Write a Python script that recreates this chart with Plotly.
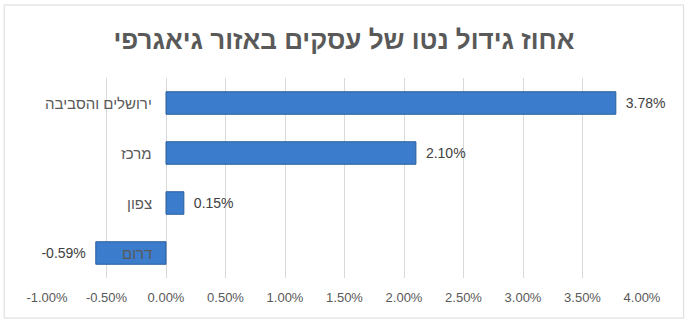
import plotly.graph_objects as go

# Net business growth by region
regions = ["ירושלים והסביבה", "מרכז", "צפון", "דרום"]
growth = [0.0378, 0.0210, 0.0015, -0.0059]
labels = ["3.78%", "2.10%", "0.15%", "-0.59%"]

# X axis ticks
tick_vals = [-0.01, -0.005, 0.0, 0.005, 0.01, 0.015, 0.02, 0.025, 0.03, 0.035, 0.04]
tick_text = ["-1.00%", "-0.50%", "0.00%", "0.50%", "1.00%", "1.50%",
             "2.00%", "2.50%", "3.00%", "3.50%", "4.00%"]

FONT = "Liberation Sans, Arial, DejaVu Sans, sans-serif"
PAD = "\u2002"

# pad the value labels away from the bar ends
bar_text = [(PAD + t) if v >= 0 else (t + PAD) for t, v in zip(labels, growth)]

fig = go.Figure()
fig.add_trace(go.Bar(
    y=regions,
    x=growth,
    orientation="h",
    width=0.45,
    marker=dict(color="#3b7dcc", line=dict(color="#2a5d99", width=1)),
    text=bar_text,
    textposition="outside",
    textfont=dict(family=FONT, size=14, color="#404040"),
    cliponaxis=False,
    hoverinfo="skip",
))

# Region names sit beside the zero line, as in the spreadsheet layout
for r in regions:
    fig.add_annotation(
        x=0, y=r, xref="x", yref="y",
        text=r, showarrow=False,
        xanchor="right", xshift=-12,
        font=dict(family=FONT, size=15, color="#595959"),
    )

# Light frame around the whole chart
fig.add_shape(
    type="rect", xref="paper", yref="paper",
    x0=-0.072, x1=1.07, y0=-0.2, y1=1.365,
    line=dict(color="#d9d9d9", width=1), fillcolor="rgba(0,0,0,0)",
    layer="below",
)

fig.update_layout(
    width=688, height=322,
    margin=dict(l=47, r=46, t=78, b=44),
    paper_bgcolor="white", plot_bgcolor="white",
    showlegend=False,
    title=dict(
        text="<b>אחוז גידול נטו של עסקים באזור גיאגרפי</b>",
        x=0.5, xanchor="center", y=0.875, yanchor="middle",
        font=dict(family=FONT, size=26, color="#595959"),
    ),
    xaxis=dict(
        range=[-0.01, 0.04],
        tickvals=tick_vals, ticktext=tick_text,
        showgrid=True, gridcolor="#d9d9d9", gridwidth=1,
        zeroline=False, showline=False,
        ticks="", ticklabelstandoff=10,
        tickfont=dict(family=FONT, size=13, color="#595959"),
        fixedrange=True,
    ),
    yaxis=dict(
        categoryorder="array", categoryarray=regions[::-1],
        showticklabels=False, showgrid=False, zeroline=False,
        showline=False, ticks="",
        fixedrange=True,
    ),
)

fig.write_html("out.html")
